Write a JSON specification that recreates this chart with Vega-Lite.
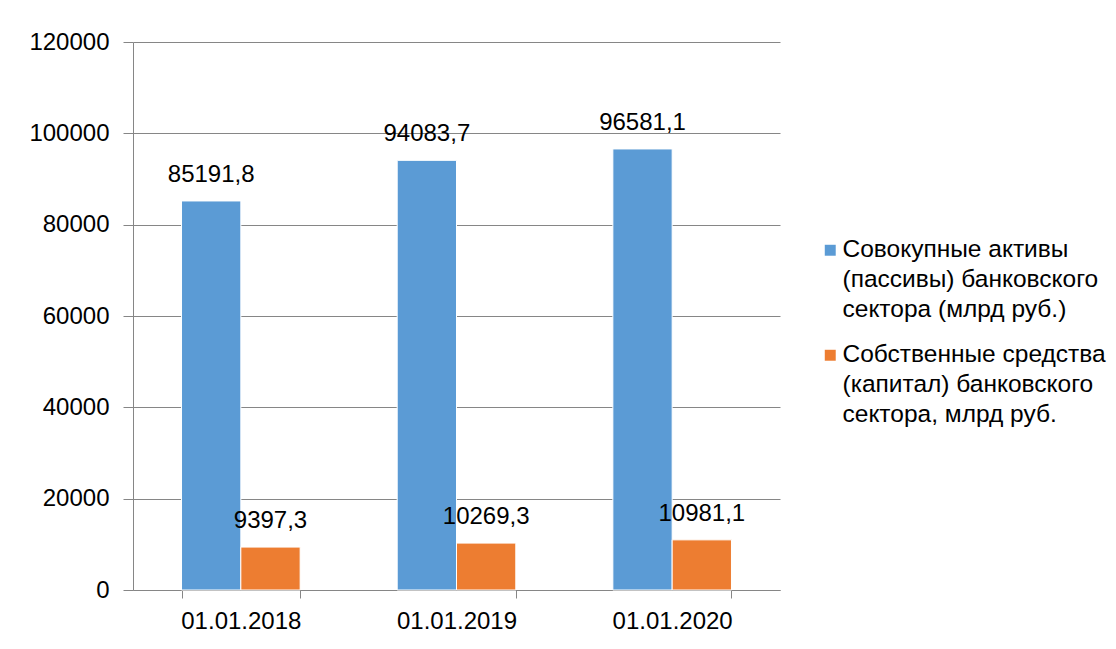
{
  "$schema": "https://vega.github.io/schema/vega-lite/v6.json",
  "width": 647,
  "height": 548,
  "autosize": "none",
  "padding": {"left": 133, "top": 42, "right": 336, "bottom": 59},
  "background": "white",
  "config": {
    "locale": {"number": {"decimal": ",", "thousands": "", "grouping": [3], "currency": ["", ""]}},
    "view": {"stroke": null},
    "font": "Liberation Sans",
    "style": {"guide-label": {"lineHeight": 30}}
  },
  "data": {
    "values": [
      {"date": "01.01.2018", "series": "Совокупные активы (пассивы) банковского сектора (млрд руб.)", "value": 85191.8},
      {"date": "01.01.2018", "series": "Собственные средства (капитал) банковского сектора, млрд руб.", "value": 9397.3},
      {"date": "01.01.2019", "series": "Совокупные активы (пассивы) банковского сектора (млрд руб.)", "value": 94083.7},
      {"date": "01.01.2019", "series": "Собственные средства (капитал) банковского сектора, млрд руб.", "value": 10269.3},
      {"date": "01.01.2020", "series": "Совокупные активы (пассивы) банковского сектора (млрд руб.)", "value": 96581.1},
      {"date": "01.01.2020", "series": "Собственные средства (капитал) банковского сектора, млрд руб.", "value": 10981.1}
    ]
  },
  "encoding": {
    "x": {
      "field": "date", "type": "nominal",
      "scale": {"paddingInner": 0.45, "paddingOuter": 0.225},
      "axis": {
        "title": null, "labelAngle": 0, "labelFontSize": 24, "labelColor": "#000000",
        "labelPadding": 11, "tickBand": "extent", "tickSize": 8, "tickColor": "#868686",
        "domainColor": "#868686", "grid": false
      }
    },
    "xOffset": {"field": "series", "type": "nominal", "sort": null},
    "y": {
      "field": "value", "type": "quantitative",
      "scale": {"domain": [0, 120000], "nice": false},
      "axis": {
        "title": null, "values": [0, 20000, 40000, 60000, 80000, 100000, 120000],
        "format": "d", "labelFontSize": 24, "labelColor": "#000000", "labelPadding": 14,
        "tickSize": 10, "tickColor": "#868686", "grid": true, "gridColor": "#868686",
        "domain": true, "domainColor": "#868686"
      }
    },
    "color": {
      "field": "series", "type": "nominal", "sort": null,
      "scale": {"range": ["#5B9BD5", "#ED7D31"]},
      "legend": {
        "title": null, "orient": "none", "legendX": 685, "legendY": 196,
        "symbolType": "square", "symbolSize": 120, "symbolStrokeWidth": 0,
        "labelFontSize": 24.5, "labelColor": "#000000", "labelOffset": 0,
        "labelLimit": 400, "labelBaseline": "middle", "rowPadding": 20, "padding": 0,
        "labelExpr": "indexof(datum.label, 'Совокупные') == 0 ? ['Совокупные активы', '(пассивы) банковского', 'сектора (млрд руб.)'] : ['Собственные средства', '(капитал) банковского', 'сектора, млрд руб.']"
      }
    }
  },
  "layer": [
    {"mark": {"type": "bar", "stroke": "white", "strokeWidth": 1}},
    {
      "mark": {"type": "text", "baseline": "alphabetic", "dy": -19, "fontSize": 24, "color": "#000000"},
      "encoding": {
        "text": {"field": "value", "type": "quantitative", "format": ".1f"},
        "color": {"value": "#000000"}
      }
    }
  ]
}
